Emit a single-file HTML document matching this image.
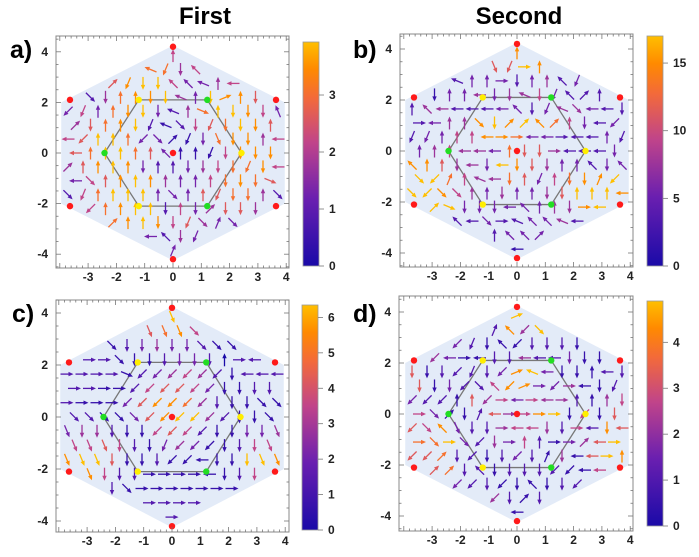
<!DOCTYPE html>
<html><head><meta charset="utf-8">
<style>
html,body{margin:0;padding:0;background:#fff;}
svg{display:block;font-family:"Liberation Sans",sans-serif;}
</style></head>
<body>
<svg id="fig" width="699" height="557" viewBox="0 0 699 557" xmlns="http://www.w3.org/2000/svg">
<defs>
<linearGradient id="cmap" x1="0" y1="1" x2="0" y2="0">
<stop offset="0" stop-color="#1a0aa8"/><stop offset="0.3" stop-color="#6a1fb0"/>
<stop offset="0.55" stop-color="#c0448a"/><stop offset="0.75" stop-color="#f36a3a"/>
<stop offset="0.88" stop-color="#ff8a00"/><stop offset="1" stop-color="#ffbf00"/>
</linearGradient>
</defs>
<text x="205" y="24" font-size="24" font-weight="bold" text-anchor="middle">First</text>
<text x="519" y="24" font-size="24" font-weight="bold" text-anchor="middle">Second</text>
</svg>
<script>
// ---- data ----
const dirA=["......geg......","....hhlmgih....","..cclmmggheii..",".omeemmhembemo.","kleemmmhepemmmf","cmeemlhomlmmmea","ikeeekoclmnmmei","ieeeeegeelmmmmi","ceeeemeemmmmlmi","ioeeeeeeeemmmpa","oleeeeeoeelmmeo",".keeeememcmmmc.","..cceemmlodoo..","....eigmlgm....","......gdo......"];
const magA=["......453......","....6774566....","..46899533455..",".2478894398862.","353789324799853","467892125679863","569973311378845","679976311158886","468983223457785","356898433578763","257999333667742",".5789925346642.","..67898564333..","....6324333....","......332......"];
const dirB=["......oea......","....cnlaeeh....","..aheeameeglc..",".meeimmhmlgcee.","egiiiiigmlhoiim","aieeomccgcemiki","lleeeiaaiiaiiel","eeeiiiemmaiiimo","geemimimmmeegmg","okdehimelemmdkk","okooeemeemmeeei",".cpmmmigeemaia.","..egioahgghia..","....oeggcgi....","......oig......"];
const magB=["......687......","....3669835....","..22333234232..",".1334344532222.","244222332344322","234489898753233","233558873322232","345443766422232","886443986433233","997544763578899","998543433469998",".9933333344899.","..32232233422..","....2233322....","......212......"];
const dirC=["......nnn......","....nnnnoop....","..oommmmmooop..",".aaommmmmmeaia.","aaaapkkkkkkmiii","aaaakkkkkkmmmmi","aaaakkkkkkmmmoo","oooookkkkkkmmoo","nmmmmmkkkkmmmmn","nnnmmmlkkkmmmnn","nnnmmmmkkimmmnn",".nmmmaaaaimmmn.","..mmoaaaaaaaa..","....aaaaaaa....","......aaa......"];
const magC=["......799......","....4678533....","..11234332111..",".2211123320222.","222212345421222","221125665311222","211136887421111","221136899421112","344211565211334","556521343112556","899611211111998",".8522111111258.","..22111111112..","....1222222....","......222......"];
const dirD=["......cbi......","....mdgkoai....","..kklmgkmmmmk..",".kiaimmiiimmmm.","mmmklmkbhimmeim","mmmkogkbakaimlb","kkkeekaiaiaeeem","aocmdiaaaamkmmi","kognmmaiimmaimi","aoaokmaeeaaciae","kkcmkmmkmdmiiae",".ccmgmmmmkkiia.","..kkkmkmgmmki..","....kkmcmgk....","......iii......"];
const magD=["......898......","....1284971....","..53211122211..",".4311224223111.","612222389311122","613225883341124","322164535442145","531126458915166","658322455425286","779324352134697","667221232141698",".6722122221156.","..23221111221..","....6421211....","......111......"];
const redPts=[[0,0],[0,4.2],[0,-4.2],[3.64,2.1],[3.64,-2.1],[-3.64,2.1],[-3.64,-2.1]];
const yellowPts=[[-1.21,2.1],[2.42,0],[-1.21,-2.1]];
const greenPts=[[1.21,2.1],[-2.42,0],[1.21,-2.1]];
const xTicks=[-3,-2,-1,0,1,2,3,4];
const yTicks=[-4,-2,0,2,4];
const cbTicksA=[0,1,2,3], cbTicksB=[0,5,10,15], cbTicksC=[0,1,2,3,4,5,6], cbTicksD=[0,1,2,3,4];

const NS="http://www.w3.org/2000/svg";
const svg=document.getElementById('fig');
function mk(tag,attrs,parent){const e=document.createElementNS(NS,tag);for(const k in attrs)e.setAttribute(k,attrs[k]);(parent||svg).appendChild(e);return e;}
function lerp(a,b,t){return a+(b-a)*t;}
const stops=[[0,[26,10,168]],[0.3,[106,31,176]],[0.55,[192,68,138]],[0.75,[243,106,58]],[0.88,[255,138,0]],[1,[255,191,0]]];
function cmap(f){for(let i=1;i<stops.length;i++){if(f<=stops[i][0]){const t=(f-stops[i-1][0])/(stops[i][0]-stops[i-1][0]);const a=stops[i-1][1],b=stops[i][1];return `rgb(${Math.round(lerp(a[0],b[0],t))},${Math.round(lerp(a[1],b[1],t))},${Math.round(lerp(a[2],b[2],t))})`;}}return 'rgb(255,191,0)';}

const panels=[
 {id:'a',label:'a)',lx:10,ly:58,L:56,R:289,T:36,B:268,x0:173,sx:28.3,y0:153,sy:25.3,cbx:303,cbT:42,cbB:266,cbMax:3.93,cbT_:cbTicksA,dir:dirA,mag:magA},
 {id:'b',label:'b)',lx:353,ly:58,L:400,R:633,T:34,B:267,x0:517,sx:28.3,y0:151,sy:25.5,cbx:647,cbT:36,cbB:266,cbMax:17,cbT_:cbTicksB,dir:dirB,mag:magB},
 {id:'c',label:'c)',lx:12,ly:322,L:56,R:289,T:300,B:532,x0:172,sx:28.3,y0:417,sy:26,cbx:302,cbT:305,cbB:530,cbMax:6.35,cbT_:cbTicksC,dir:dirC,mag:magC},
 {id:'d',label:'d)',lx:353,ly:322,L:399,R:633,T:296,B:531,x0:517,sx:28.3,y0:414,sy:25.5,cbx:647,cbT:301,cbB:526,cbMax:4.9,cbT_:cbTicksD,dir:dirD,mag:magD}
];

function inHex(x,y){return Math.abs(x)<=3.8 && Math.abs(y)<=4.05-Math.abs(x)*0.57;}

panels.forEach(p=>{
 const g=mk('g',{});
 
 
 const X=v=>p.x0+v*p.sx, Y=v=>p.y0-v*p.sy;
 const lab=mk('text',{x:p.lx,y:p.ly,'font-size':25,'font-weight':'bold'},g);lab.textContent=p.label;
 
 
 const hv=[[0,4.25],[3.95,2.0],[3.95,-2.0],[0,-4.25],[-3.95,-2.0],[-3.95,2.0]];
 const bg=mk('polygon',{points:hv.map(q=>X(q[0])+','+Y(q[1])).join(' '),fill:'#e3ebf8'},g);
 
 
 const iv=[[1.21,2.1],[2.42,0],[1.21,-2.1],[-1.21,-2.1],[-2.42,0],[-1.21,2.1]];
 const ih=mk('polygon',{points:iv.map(q=>X(q[0])+','+Y(q[1])).join(' '),fill:'none',stroke:'#777',"stroke-width":1.3},g);
 
 
 for(let r=0;r<p.dir.length;r++){
  const yv=3.85-r*0.55;
  const off=(r%2)?0.265:0;
  for(let c=0;c<15;c++){
   const ch=p.dir[r][c]; if(!ch||ch==='.')continue;
   const xv=-3.71+c*0.53+off;
   if(!inHex(xv,yv))continue;
   const m=parseInt(p.mag[r][c]||'3')/9;
   const ang=(ch.charCodeAt(0)-97)*22.5*Math.PI/180;
   const cx=X(xv),cy=Y(yv),len=13;
   const dx=Math.cos(ang)*len/2,dy=-Math.sin(ang)*len/2;
   const col=cmap(m);
   const ar=mk('g',{},g);
   
   
   mk('line',{x1:cx-dx,y1:cy-dy,x2:cx+dx*0.5,y2:cy+dy*0.5,stroke:col,'stroke-width':1.3},ar);
   const hx=cx+dx,hy=cy+dy,ux=Math.cos(ang),uy=-Math.sin(ang);
   const bx=hx-ux*5,by=hy-uy*5,px=-uy*2.2,py=ux*2.2;
   mk('polygon',{points:`${hx},${hy} ${bx+px},${by+py} ${bx-px},${by-py}`,fill:col},ar);
  }
 }
 const dots=[[redPts,'#ff1a1a','red-point'],[yellowPts,'#ffee00','yellow-point'],[greenPts,'#22dd22','green-point']];
 dots.forEach(([arr,col,nm])=>arr.forEach(q=>{const d=mk('circle',{cx:X(q[0]),cy:Y(q[1]),r:3.2,fill:col},g);
  
  }));
 const fr=mk('rect',{x:p.L,y:p.T,width:p.R-p.L,height:p.B-p.T,fill:'none',stroke:'#888','stroke-width':1},g);
 
 
 for(let v=-4;v<=4.01;v+=0.2){const x=X(v);if(x<p.L||x>p.R)continue;const big=Math.abs(v-Math.round(v))<0.01;
  mk('line',{x1:x,y1:p.B,x2:x,y2:p.B-(big?5:2.5),stroke:'#777','stroke-width':0.8},g);
  mk('line',{x1:x,y1:p.T,x2:x,y2:p.T+(big?5:2.5),stroke:'#777','stroke-width':0.8},g);}
 for(let v=-4.5;v<=4.51;v+=0.5){const y=Y(v);if(y<p.T||y>p.B)continue;const big=Math.abs(v/2-Math.round(v/2))<0.01;
  mk('line',{x1:p.L,y1:y,x2:p.L+(big?5:2.5),y2:y,stroke:'#777','stroke-width':0.8},g);
  mk('line',{x1:p.R,y1:y,x2:p.R-(big?5:2.5),y2:y,stroke:'#777','stroke-width':0.8},g);}
 xTicks.forEach(v=>{const t=mk('text',{x:X(v),y:p.B+13,'font-size':12,'font-weight':'bold','text-anchor':'middle',fill:'#222'},g);t.textContent=v;
  
  });
 yTicks.forEach(v=>{const t=mk('text',{x:p.L-8,y:Y(v)+4,'font-size':12,'font-weight':'bold','text-anchor':'end',fill:'#222'},g);t.textContent=v;
  
  });
 const cb=mk('rect',{x:p.cbx,y:p.cbT,width:16,height:p.cbB-p.cbT,fill:'url(#cmap)',stroke:'#999','stroke-width':0.8},g);
 
 
 const CY=v=>p.cbB-v/p.cbMax*(p.cbB-p.cbT);
 p.cbT_.forEach(v=>{const y=CY(v);
  mk('line',{x1:p.cbx+16,y1:y,x2:p.cbx+21,y2:y,stroke:'#777','stroke-width':0.8},g);
  const t=mk('text',{x:p.cbx+26,y:y+4,'font-size':12,'font-weight':'bold',fill:'#222'},g);t.textContent=v;
  
  });
});
</script>
</body></html>
